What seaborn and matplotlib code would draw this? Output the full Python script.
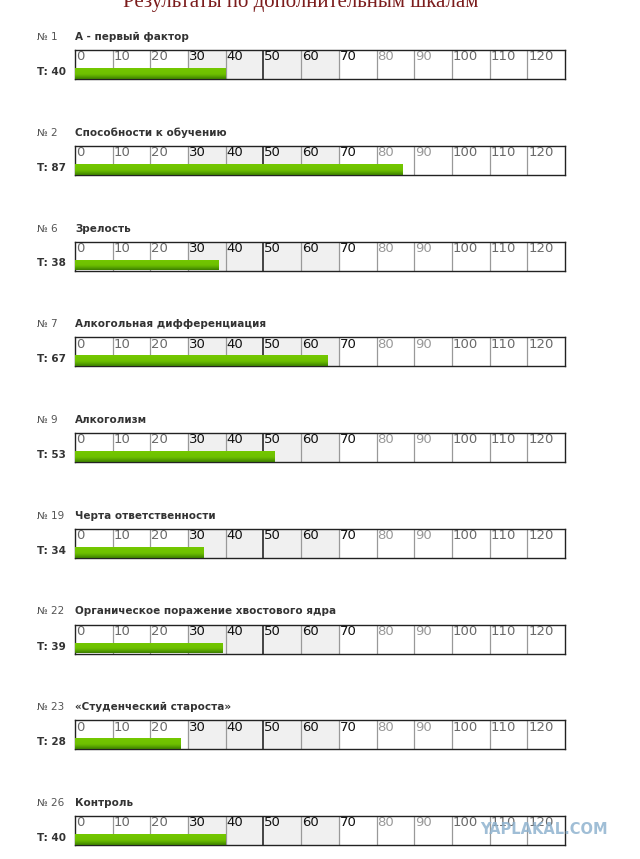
import numpy as np
import matplotlib
matplotlib.use("Agg")
import matplotlib.pyplot as plt
import seaborn as sns
from matplotlib.colors import LinearSegmentedColormap
from matplotlib.transforms import blended_transform_factory

sns.set_theme(style="white")
plt.rcParams['font.family'] = ['DejaVu Sans']

# ---- data ----
scale_numbers = ["№ 1", "№ 2", "№ 6", "№ 7", "№ 9", "№ 19", "№ 22", "№ 23", "№ 26"]
scale_names = ["A - первый фактор", "Способности к обучению", "Зрелость",
               "Алкогольная дифференциация", "Алкоголизм", "Черта ответственности",
               "Органическое поражение хвостового ядра", "«Студенческий староста»",
               "Контроль"]
t_scores = [40, 87, 38, 67, 53, 34, 39, 28, 40]
tick_values = [0, 10, 20, 30, 40, 50, 60, 70, 80, 90, 100, 110, 120]
axis_max = 130
title = "Результаты по дополнительным шкалам"

W, H = 640, 859
fig = plt.figure(figsize=(W / 100, H / 100), dpi=100)
fig.patch.set_facecolor("white")

box_left, box_width, box_h = 75, 490, 29
first_top, step = 50, 95.75

green_cmap = LinearSegmentedColormap.from_list(
    "g", [(0, "#3b7d00"), (0.25, "#5aa800"), (0.45, "#6ec000"), (1, "#74c800")])

for i, (num, name, val) in enumerate(zip(scale_numbers, scale_names, t_scores)):
    top = first_top + step * i
    ax = fig.add_axes([box_left / W, 1 - (top + box_h) / H, box_width / W, box_h / H])
    df = {"T": [val], "cat": ["T"]}
    sns.barplot(x=df["T"], y=df["cat"], orient="h", width=0.8, color="#6ec000",
                ax=ax, zorder=3, linewidth=0)
    ax.set_xlim(0, axis_max)
    ax.set_ylim(0.4, 0.4 - 0.8 * box_h / 11)
    # gradient fill clipped to the bar
    for p in ax.patches:
        p.set_alpha(0)
        x0, y0 = p.get_x(), p.get_y()
        w, h = p.get_width(), p.get_height()
        grad = np.linspace(0, 1, 64).reshape(-1, 1)
        im = ax.imshow(grad, cmap=green_cmap, aspect="auto",
                       extent=[x0, x0 + w, y0 + h, y0], origin="lower", zorder=4)
        im.set_clip_path(p)
    ax.set_xlim(0, axis_max)
    ax.set_ylim(0.4, 0.4 - 0.8 * box_h / 11)

    ax.axvspan(30, 70, color="#f0f0f0", zorder=0)
    for tv in tick_values[1:]:
        col = "#444444" if tv == 50 else "#999999"
        lw = 1.4 if tv == 50 else 0.9
        ax.axvline(tv, color=col, lw=lw, zorder=1)
    trans = blended_transform_factory(ax.transData, ax.transAxes)
    for tv in tick_values:
        c = "#111111" if 30 <= tv <= 70 else ("#999999" if tv in (80, 90) else "#6a6a6a")
        ax.text(tv + 0.25, 0.99, str(tv), transform=trans, ha="left", va="top",
                fontsize=9.5, color=c, zorder=2)
    ax.set_xticks([])
    ax.set_yticks([])
    ax.set_xlabel("")
    ax.set_ylabel("")
    for s in ax.spines.values():
        s.set_visible(True)
        s.set_color("#222222")
        s.set_linewidth(1.0)

    fig.text(37 / W, 1 - (top - 13) / H, num, ha="left", va="center",
             fontsize=7.5, color="#555555")
    fig.text(75 / W, 1 - (top - 13) / H, name, ha="left", va="center",
             fontsize=7.5, color="#333333", fontweight="bold")
    fig.text(37 / W, 1 - (top + 22) / H, f"T: {val}", ha="left", va="center",
             fontsize=7.5, color="#333333", fontweight="bold")

fig.text(301 / W, 1 - 7.5 / H, title, ha="center", va="baseline",
         fontsize=15, color="#7b1c1c", family=["Liberation Serif", "DejaVu Serif"])

fig.text(544 / W, 1 - 829 / H, "YAPLAKAL.COM", ha="center", va="center",
         fontsize=10.5, color="#8fb3cf", fontweight="bold", alpha=0.85)

fig.savefig("out.png", dpi=100, facecolor="white")
